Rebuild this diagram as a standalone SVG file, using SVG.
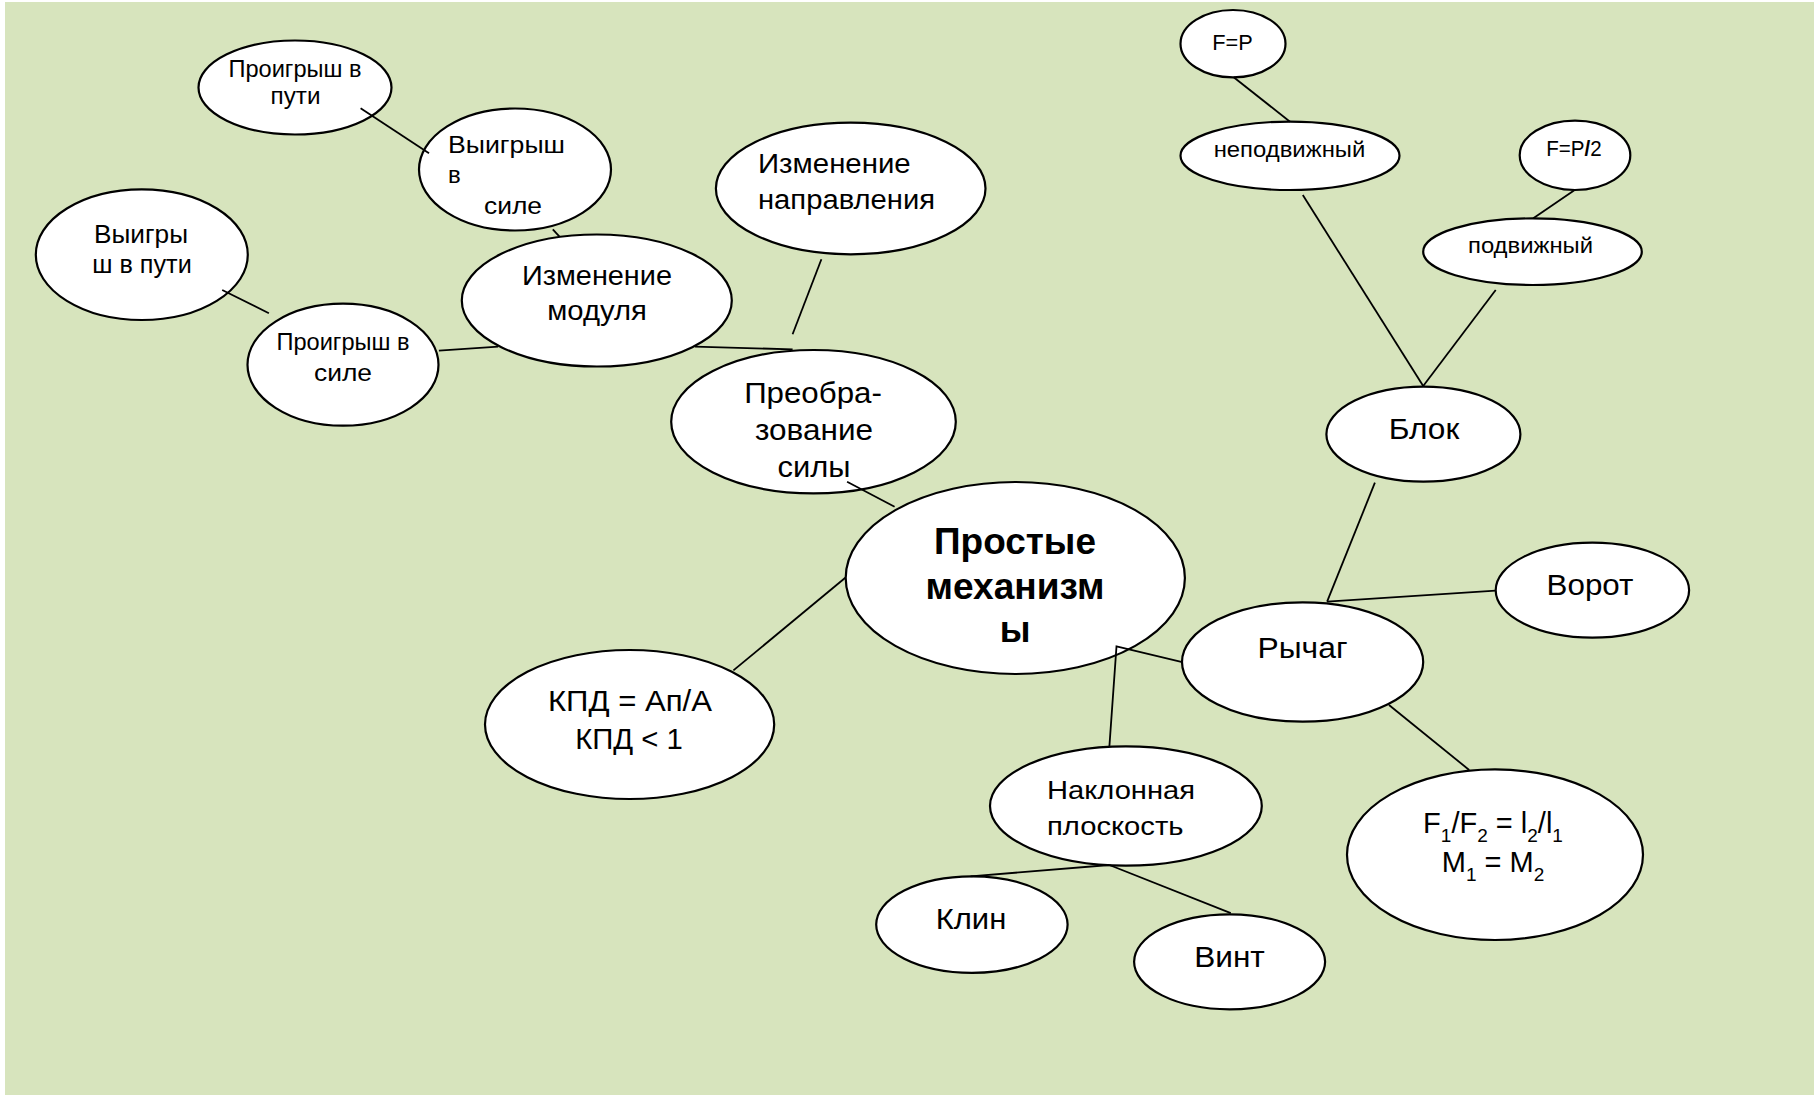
<svg xmlns="http://www.w3.org/2000/svg" width="1814" height="1097" viewBox="0 0 1814 1097">
<style>
.n ellipse{fill:#fff;stroke:#000;stroke-width:2.2}
text{font-family:"Liberation Sans",Arial,sans-serif;fill:#000}
.c{text-anchor:middle}
.conn line,.conn polyline{stroke:#000;stroke-width:1.8;fill:none}
</style>
<rect x="0" y="0" width="1814" height="1097" fill="#fff"/>
<rect x="5" y="2" width="1809" height="1093" fill="#d7e4bd"/>
<g id="n-proigrysh-puti" class="n"><ellipse cx="295" cy="87.5" rx="96.5" ry="47"/>
<text class="c" font-size="23" x="295" y="77" textLength="133" lengthAdjust="spacingAndGlyphs">Проигрыш в</text>
<text class="c" font-size="23" x="295.5" y="104" textLength="50" lengthAdjust="spacingAndGlyphs">пути</text></g>
<g id="n-vyigrysh-sile" class="n"><ellipse cx="515" cy="169.5" rx="96" ry="61"/>
<text font-size="24" x="448" y="153" textLength="117" lengthAdjust="spacingAndGlyphs">Выигрыш</text>
<text font-size="24" x="448" y="183">в</text>
<text font-size="24" x="484" y="214" textLength="58" lengthAdjust="spacingAndGlyphs">силе</text></g>
<g id="n-vyigrysh-puti" class="n"><ellipse cx="141.8" cy="254.7" rx="106" ry="65.3"/>
<text class="c" font-size="25" x="141" y="243" textLength="94" lengthAdjust="spacingAndGlyphs">Выигры</text>
<text class="c" font-size="25" x="142" y="273" textLength="99.5" lengthAdjust="spacingAndGlyphs">ш в пути</text></g>
<g id="n-proigrysh-sile" class="n"><ellipse cx="343" cy="364.7" rx="95.5" ry="61"/>
<text class="c" font-size="23" x="343" y="350" textLength="133" lengthAdjust="spacingAndGlyphs">Проигрыш в</text>
<text class="c" font-size="23" x="343" y="381" textLength="58" lengthAdjust="spacingAndGlyphs">силе</text></g>
<g id="n-izm-modulya" class="n"><ellipse cx="596.8" cy="300.5" rx="135" ry="66"/>
<text class="c" font-size="27" x="597" y="285" textLength="150" lengthAdjust="spacingAndGlyphs">Изменение</text>
<text class="c" font-size="27" x="597" y="320" textLength="99.5" lengthAdjust="spacingAndGlyphs">модуля</text></g>
<g id="n-izm-napr" class="n"><ellipse cx="850.7" cy="188.5" rx="134.8" ry="65.8"/>
<text font-size="27" x="758" y="173" textLength="152.7" lengthAdjust="spacingAndGlyphs">Изменение</text>
<text font-size="27" x="758" y="209" textLength="177" lengthAdjust="spacingAndGlyphs">направления</text></g>
<g id="n-preobr" class="n"><ellipse cx="813.5" cy="421.7" rx="142.3" ry="71.7"/>
<text class="c" font-size="29" x="813" y="403" textLength="137.7" lengthAdjust="spacingAndGlyphs">Преобра-</text>
<text class="c" font-size="29" x="814" y="440" textLength="118" lengthAdjust="spacingAndGlyphs">зование</text>
<text class="c" font-size="29" x="814" y="477" textLength="73" lengthAdjust="spacingAndGlyphs">силы</text></g>
<g id="n-center" class="n"><ellipse cx="1015.3" cy="578" rx="169.6" ry="96"/>
<text class="c" font-size="36" font-weight="bold" x="1015" y="554" textLength="162" lengthAdjust="spacingAndGlyphs">Простые</text>
<text class="c" font-size="36" font-weight="bold" x="1015" y="599" textLength="179" lengthAdjust="spacingAndGlyphs">механизм</text>
<text class="c" font-size="36" font-weight="bold" x="1015" y="642">ы</text></g>
<g id="n-kpd" class="n"><ellipse cx="629.6" cy="724.5" rx="144.6" ry="74.5"/>
<text class="c" font-size="30" x="630" y="711" textLength="164" lengthAdjust="spacingAndGlyphs">КПД = Ап/А</text>
<text class="c" font-size="30" x="629" y="749" textLength="107.6" lengthAdjust="spacingAndGlyphs">КПД &lt; 1</text></g>
<g id="n-blok" class="n"><ellipse cx="1423.4" cy="434.2" rx="97" ry="47.5"/>
<text class="c" font-size="30" x="1424" y="439" textLength="70.6" lengthAdjust="spacingAndGlyphs">Блок</text></g>
<g id="n-fp" class="n"><ellipse cx="1233" cy="43.7" rx="52.5" ry="33.7"/>
<text class="c" font-size="22" x="1232.5" y="50" textLength="40.5" lengthAdjust="spacingAndGlyphs">F=P</text></g>
<g id="n-nepodv" class="n"><ellipse cx="1290" cy="155.8" rx="109.5" ry="34.2"/>
<text class="c" font-size="22" x="1289.5" y="157" textLength="151.6" lengthAdjust="spacingAndGlyphs">неподвижный</text></g>
<g id="n-fp2" class="n"><ellipse cx="1575" cy="155.3" rx="55.3" ry="34.7"/>
<text class="c" font-size="22" x="1574" y="156" textLength="55.5" lengthAdjust="spacingAndGlyphs">F=P<tspan font-weight="bold">/</tspan>2</text></g>
<g id="n-podv" class="n"><ellipse cx="1532.5" cy="251.7" rx="109.3" ry="33.3"/>
<text class="c" font-size="22" x="1530.5" y="253" textLength="125" lengthAdjust="spacingAndGlyphs">подвижный</text></g>
<g id="n-vorot" class="n"><ellipse cx="1592.4" cy="590.2" rx="96.7" ry="47.5"/>
<text class="c" font-size="30" x="1590" y="595" textLength="86.8" lengthAdjust="spacingAndGlyphs">Ворот</text></g>
<g id="n-rychag" class="n"><ellipse cx="1302.6" cy="662" rx="120.6" ry="59.7"/>
<text class="c" font-size="30" x="1302.5" y="658" textLength="90" lengthAdjust="spacingAndGlyphs">Рычаг</text></g>
<g id="n-formula" class="n"><ellipse cx="1495" cy="854.7" rx="148" ry="85.3"/>
<text class="c" font-size="29" x="1493" y="833">F<tspan font-size="19" dy="9">1</tspan><tspan dy="-9">/F</tspan><tspan font-size="19" dy="9">2</tspan><tspan dy="-9"> = l</tspan><tspan font-size="19" dy="9">2</tspan><tspan dy="-9">/l</tspan><tspan font-size="19" dy="9">1</tspan></text>
<text class="c" font-size="29" x="1493" y="872">M<tspan font-size="19" dy="9">1</tspan><tspan dy="-9"> = M</tspan><tspan font-size="19" dy="9">2</tspan></text></g>
<g id="n-naklon" class="n"><ellipse cx="1125.9" cy="806" rx="135.9" ry="59.6"/>
<text font-size="26" x="1047" y="799" textLength="148" lengthAdjust="spacingAndGlyphs">Наклонная</text>
<text font-size="26" x="1047" y="835" textLength="136.5" lengthAdjust="spacingAndGlyphs">плоскость</text></g>
<g id="n-klin" class="n"><ellipse cx="971.9" cy="924.6" rx="95.7" ry="48.2"/>
<text class="c" font-size="29" x="971" y="929" textLength="70.6" lengthAdjust="spacingAndGlyphs">Клин</text></g>
<g id="n-vint" class="n"><ellipse cx="1229.6" cy="961.8" rx="95.5" ry="47.5"/>
<text class="c" font-size="29" x="1229.5" y="967" textLength="70.6" lengthAdjust="spacingAndGlyphs">Винт</text></g>
<g id="connectors" class="conn">
<line x1="360.6" y1="108.3" x2="429" y2="153.3"/>
<line x1="552.8" y1="229.3" x2="559.5" y2="236.7"/>
<line x1="222.2" y1="290" x2="268.9" y2="313.3"/>
<line x1="438.9" y1="350.7" x2="498.2" y2="346.7"/>
<line x1="694.9" y1="346.7" x2="792.6" y2="349.3"/>
<line x1="821.4" y1="259.3" x2="792.6" y2="334.3"/>
<line x1="847.1" y1="481.7" x2="894.6" y2="506.7"/>
<line x1="845.6" y1="577.5" x2="733.4" y2="670.4"/>
<polyline points="1109.4,746.4 1116.5,646.4 1182.3,662.1"/>
<line x1="1374.9" y1="482.7" x2="1327.1" y2="601.7"/>
<line x1="1327.1" y1="601.7" x2="1495.7" y2="590.7"/>
<line x1="1389" y1="705" x2="1469.2" y2="770"/>
<line x1="1302.8" y1="195" x2="1423.2" y2="386"/>
<line x1="1495.7" y1="290" x2="1423.2" y2="386"/>
<line x1="1233.7" y1="77.3" x2="1290" y2="121.7"/>
<line x1="1574.7" y1="190" x2="1533.3" y2="218.3"/>
<line x1="1109.4" y1="865" x2="970.6" y2="876.4"/>
<line x1="1109.4" y1="865" x2="1230.8" y2="913.2"/>
</g>
</svg>
